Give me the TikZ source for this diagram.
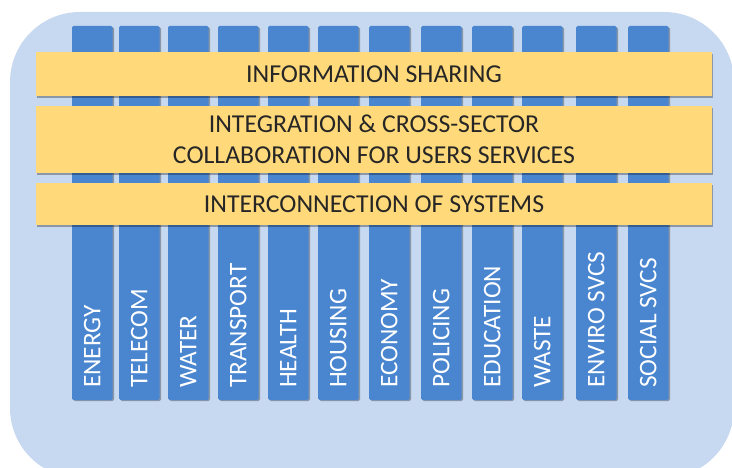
\documentclass[tikz,border=0pt]{standalone}
\usepackage{fontspec}
\setmainfont{Carlito}
\usetikzlibrary{shadows}
\definecolor{bgblue}{HTML}{C7D9F0}
\definecolor{colblue}{HTML}{4A86D0}
\definecolor{bandyel}{HTML}{FFD97A}
\definecolor{txtdark}{HTML}{262626}
\begin{document}
\begin{tikzpicture}[x=1pt,y=-1pt,
  sector/.style={fill=colblue, draw=none, rounded corners=1.5pt,
    minimum width=40.5pt, minimum height=374pt, inner sep=0pt, outer sep=0pt,
    drop shadow={opacity=0.3, fill=black, shadow xshift=1.5pt, shadow yshift=-1.2pt}},
  sectorlabel/.style={rotate=90, inner sep=0pt, text=white,
    font=\fontsize{25.3}{28}\selectfont},
  band/.style={fill=bandyel, draw=none, minimum width=676pt, inner sep=0pt, outer sep=0pt,
    text=txtdark, align=center, font=\fontsize{25.8}{31}\selectfont,
    drop shadow={opacity=0.3, fill=black, shadow xshift=1pt, shadow yshift=-2pt}}]
\useasboundingbox (0,0) rectangle (732,468);
\path[fill=bgblue, rounded corners=70pt] (10,12) rectangle (734,478);
\foreach \x/\t [count=\i] in {72/ENERGY,119/TELECOM,168/WATER,218/TRANSPORT,268/HEALTH,318/HOUSING,369/ECONOMY,421/POLICING,472/EDUCATION,522/WASTE,576/ENVIRO SVCS,628/SOCIAL SVCS}{
  \node[sector, anchor=north west] (c\i) at (\x,26) {};
  \node[sectorlabel, anchor=base west] (l\i) at ([shift={(8,-12)}]c\i.south) {\t};
}
\node[band, minimum height=44pt] (b1) at (374,74) {INFORMATION SHARING};
\node[band, minimum height=67pt] (b2) at (374,139.5) {INTEGRATION \& CROSS-SECTOR\\COLLABORATION FOR USERS SERVICES};
\node[band, minimum height=42pt] (b3) at (374,204) {INTERCONNECTION OF SYSTEMS};
\end{tikzpicture}
\end{document}
